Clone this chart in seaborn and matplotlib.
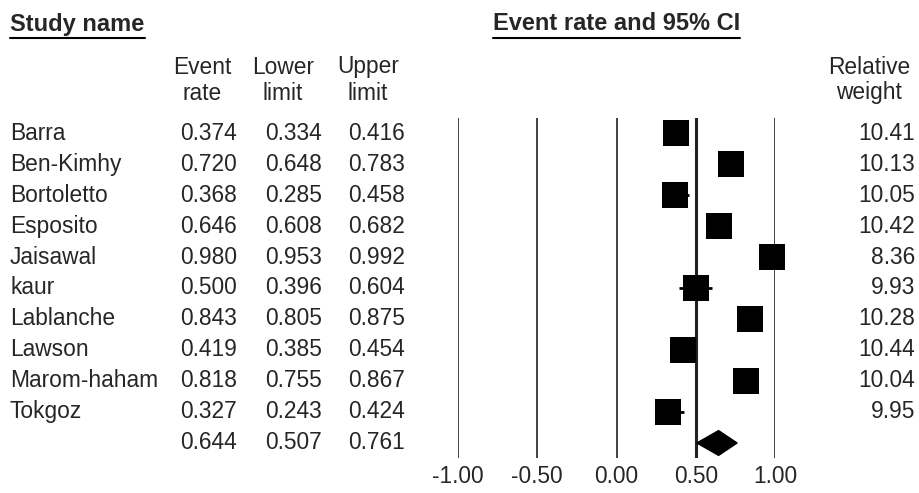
import numpy as np
import pandas as pd
import matplotlib
matplotlib.use('Agg')
import matplotlib.pyplot as plt
import matplotlib.transforms as mtransforms
from matplotlib.lines import Line2D
import seaborn as sns

studies = ['Barra', 'Ben-Kimhy', 'Bortoletto', 'Esposito', 'Jaisawal', 'kaur',
           'Lablanche', 'Lawson', 'Marom-haham', 'Tokgoz']
event_rate = [0.374, 0.720, 0.368, 0.646, 0.980, 0.500, 0.843, 0.419, 0.818, 0.327]
lower = [0.334, 0.648, 0.285, 0.608, 0.953, 0.396, 0.805, 0.385, 0.755, 0.243]
upper = [0.416, 0.783, 0.458, 0.682, 0.992, 0.604, 0.875, 0.454, 0.867, 0.424]
weights = [10.41, 10.13, 10.05, 10.42, 8.36, 9.93, 10.28, 10.44, 10.04, 9.95]
pooled = (0.644, 0.507, 0.761)
xticks = [-1.0, -0.5, 0.0, 0.5, 1.0]

df = pd.DataFrame({'study': studies, 'rate': event_rate, 'lo': lower,
                   'hi': upper, 'weight': weights})
df['row'] = np.arange(len(df))
pool_row = len(df)

sns.set_style('white')
plt.rcParams['font.family'] = ['Liberation Sans', 'DejaVu Sans']
FS = 16.4
FSB = 17

W, H = 919, 493
fig = plt.figure(figsize=(W / 100, H / 100), dpi=100)
fig.patch.set_facecolor('white')

# forest panel
ax = fig.add_axes([458 / W, 1 - 458 / H, 317 / W, 340 / H])
ax.set_xlim(-1, 1)
ax.set_ylim(pool_row + 0.484, -0.484)
for t in xticks:
    ax.axvline(t, color='#222222', lw=2.2 if t == 0.5 else 1.2, zorder=1)

ax.hlines(df['row'], df['lo'], df['hi'], color='black', lw=2, zorder=2)
sns.scatterplot(data=df, x='rate', y='row', marker='s', s=340, color='black',
                edgecolor='black', linewidth=0, ax=ax, zorder=3, clip_on=False)

# summary diamond
est, lo, hi = pooled
ax.fill([lo, est, hi, est], [pool_row, pool_row - 0.4, pool_row, pool_row + 0.4],
        color='black', zorder=3, clip_on=False)

for s in ax.spines.values():
    s.set_visible(False)
ax.set_xticks(xticks)
ax.set_xticklabels([f'{t:.2f}' for t in xticks], fontsize=FS)
ax.tick_params(axis='x', length=0, pad=5)
ax.set_yticks([])
ax.set_xlabel('')
ax.set_ylabel('')

# table text, x in figure pixels, y in row units
tr = mtransforms.blended_transform_factory(fig.transFigure, ax.transData)

def px(x):
    return x / W

for r in df.itertuples():
    fig.text(px(10), r.row, r.study, transform=tr, fontsize=FS, va='center', ha='left')
    fig.text(px(237), r.row, f'{r.rate:.3f}', transform=tr, fontsize=FS, va='center', ha='right')
    fig.text(px(322), r.row, f'{r.lo:.3f}', transform=tr, fontsize=FS, va='center', ha='right')
    fig.text(px(405), r.row, f'{r.hi:.3f}', transform=tr, fontsize=FS, va='center', ha='right')
    fig.text(px(915), r.row, f'{r.weight:.2f}', transform=tr, fontsize=FS, va='center', ha='right')

fig.text(px(237), pool_row, f'{est:.3f}', transform=tr, fontsize=FS, va='center', ha='right')
fig.text(px(322), pool_row, f'{lo:.3f}', transform=tr, fontsize=FS, va='center', ha='right')
fig.text(px(405), pool_row, f'{hi:.3f}', transform=tr, fontsize=FS, va='center', ha='right')

# column headers
def top(y):
    return 1 - y / H

for xc, l1, l2 in [(202, 'Event', 'rate'), (283, 'Lower', 'limit'),
                   (368, 'Upper', 'limit'), (869, 'Relative', 'weight')]:
    fig.text(px(xc), top(67), l1, fontsize=FS, ha='center', va='center')
    fig.text(px(xc), top(93), l2, fontsize=FS, ha='center', va='center')

fig.text(px(10), top(24), 'Study name', fontsize=FSB, fontweight='bold', ha='left', va='center')
fig.text(px(616.5), top(24), 'Event rate and 95% CI', fontsize=FSB, fontweight='bold',
         ha='center', va='center')
fig.add_artist(Line2D([px(10), px(145)], [top(38), top(38)], color='black', lw=1.5))
fig.add_artist(Line2D([px(493), px(740)], [top(38), top(38)], color='black', lw=1.5))

fig.savefig('out.png', dpi=100, facecolor='white')
